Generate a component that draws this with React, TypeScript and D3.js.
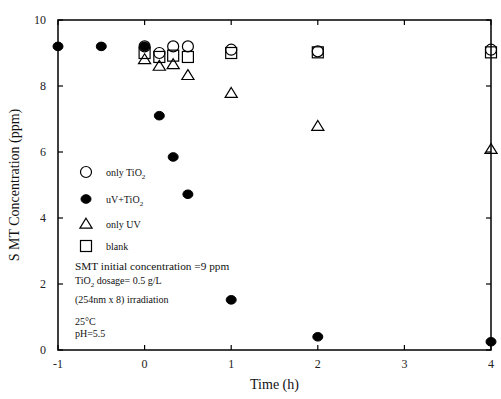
import React from "react";
import * as d3 from "d3";

const timesTiO2 = [0, 0.17, 0.33, 0.5, 1, 2, 4];
const onlyTiO2 = [9.2, 9.0, 9.2, 9.2, 9.1, 9.05, 9.1];

const timesUvTiO2 = [-1, -0.5, 0, 0.17, 0.33, 0.5, 1, 2, 4];
const uvTiO2 = [9.2, 9.2, 9.2, 7.1, 5.85, 4.72, 1.52, 0.4, 0.25];

const timesUV = [0, 0.17, 0.33, 0.5, 1, 2, 4];
const onlyUV = [8.8, 8.6, 8.65, 8.32, 7.78, 6.78, 6.08];

const timesBlank = [0, 0.17, 0.33, 0.5, 1, 2, 4];
const blank = [9.0, 8.88, 8.92, 8.88, 9.0, 9.02, 9.02];

const xTicks = [-1, 0, 1, 2, 3, 4];
const yTicks = [0, 2, 4, 6, 8, 10];

const W = 501, H = 399;
const left = 58, right = 491, top = 20, bottom = 350;
const FONT = "'Liberation Serif', 'DejaVu Serif', serif";

const x = d3.scaleLinear().domain([-1, 4]).range([left, right]);
const y = d3.scaleLinear().domain([0, 10]).range([bottom, top]);

const R = 5.5;

function Circle({ cx, cy, filled }: { cx: number; cy: number; filled?: boolean }) {
  return filled ? (
    <ellipse cx={cx} cy={cy} rx={5} ry={4.3} fill="#000" stroke="#000" strokeWidth={1} />
  ) : (
    <circle cx={cx} cy={cy} r={R} fill="none" stroke="#000" strokeWidth={1.2} />
  );
}
function Tri({ cx, cy }: { cx: number; cy: number }) {
  const s = 5.8;
  return (
    <path
      d={`M${cx},${cy - s} L${cx + s * 1.05},${cy + s * 0.7} L${cx - s * 1.05},${cy + s * 0.7} Z`}
      fill="none"
      stroke="#000"
      strokeWidth={1.2}
    />
  );
}
function Sq({ cx, cy }: { cx: number; cy: number }) {
  const s = 5.5;
  return <rect x={cx - s} y={cy - s} width={2 * s} height={2 * s} fill="none" stroke="#000" strokeWidth={1.2} />;
}

export default function App() {
  const legendX = 86;
  const legendTextX = 106;
  const legendRows = [172, 199, 224, 246];
  return (
    <svg width={W} height={H} style={{ position: "absolute", left: 0, top: 0, background: "#fff" }} fontFamily={FONT}>
      <rect x={0} y={0} width={W} height={H} fill="#fff" />
      {/* frame */}
      <rect x={left} y={top} width={right - left} height={bottom - top} fill="none" stroke="#000" strokeWidth={1.5} />
      {/* x ticks */}
      {xTicks.map((t) => (
        <g key={"xt" + t}>
          <line x1={x(t)} x2={x(t)} y1={bottom} y2={bottom - 5} stroke="#000" strokeWidth={1.2} />
          <line x1={x(t)} x2={x(t)} y1={top} y2={top + 5} stroke="#000" strokeWidth={1.2} />
          <text x={x(t)} y={bottom + 18} fontSize={12} textAnchor="middle" fill="#222">
            {t}
          </text>
        </g>
      ))}
      {yTicks.map((t) => (
        <g key={"yt" + t}>
          <line x1={left} x2={left + 5} y1={y(t)} y2={y(t)} stroke="#000" strokeWidth={1.2} />
          <line x1={right} x2={right - 5} y1={y(t)} y2={y(t)} stroke="#000" strokeWidth={1.2} />
          <text x={left - 12} y={y(t) + 4} fontSize={12} textAnchor="end" fill="#222">
            {t}
          </text>
        </g>
      ))}
      <text x={(left + right) / 2} y={389} fontSize={14} textAnchor="middle" fill="#111">
        Time (h)
      </text>
      <text
        transform={`translate(19,${(top + bottom) / 2}) rotate(-90)`}
        fontSize={14}
        textAnchor="middle"
        fill="#111"
      >
        S MT Concentration (ppm)
      </text>

      {/* data */}
      {timesBlank.map((t, i) => (
        <Sq key={"b" + i} cx={x(t)} cy={y(blank[i])} />
      ))}
      {timesUV.map((t, i) => (
        <Tri key={"u" + i} cx={x(t)} cy={y(onlyUV[i])} />
      ))}
      {timesTiO2.map((t, i) => (
        <Circle key={"c" + i} cx={x(t)} cy={y(onlyTiO2[i])} />
      ))}
      {timesUvTiO2.map((t, i) => (
        <Circle key={"f" + i} cx={x(t)} cy={y(uvTiO2[i])} filled />
      ))}

      {/* legend */}
      <Circle cx={legendX} cy={legendRows[0]} />
      <text x={legendTextX} y={legendRows[0] + 3.5} fontSize={10} fill="#111">
        only TiO<tspan dy={3} fontSize={7}>2</tspan>
      </text>
      <Circle cx={legendX} cy={legendRows[1]} filled />
      <text x={legendTextX} y={legendRows[1] + 3.5} fontSize={10} fill="#111">
        uV+TiO<tspan dy={3} fontSize={7}>2</tspan>
      </text>
      <Tri cx={legendX} cy={legendRows[2]} />
      <text x={legendTextX} y={legendRows[2] + 3.5} fontSize={10} fill="#111">
        only UV
      </text>
      <Sq cx={legendX} cy={legendRows[3]} />
      <text x={legendTextX} y={legendRows[3] + 3.5} fontSize={10} fill="#111">
        blank
      </text>

      <g fontSize={10} fill="#111">
        <text x={75} y={270} fontSize={11.3}>SMT initial concentration =9 ppm</text>
        <text x={75} y={284}>
          TiO<tspan dy={3} fontSize={7}>2</tspan>
          <tspan dy={-3}> dosage= 0.5 g/L</tspan>
        </text>
        <text x={75} y={303}>(254nm x 8) irradiation</text>
        <text x={75} y={325}>25°C</text>
        <text x={75} y={337}>pH=5.5</text>
      </g>
    </svg>
  );
}
